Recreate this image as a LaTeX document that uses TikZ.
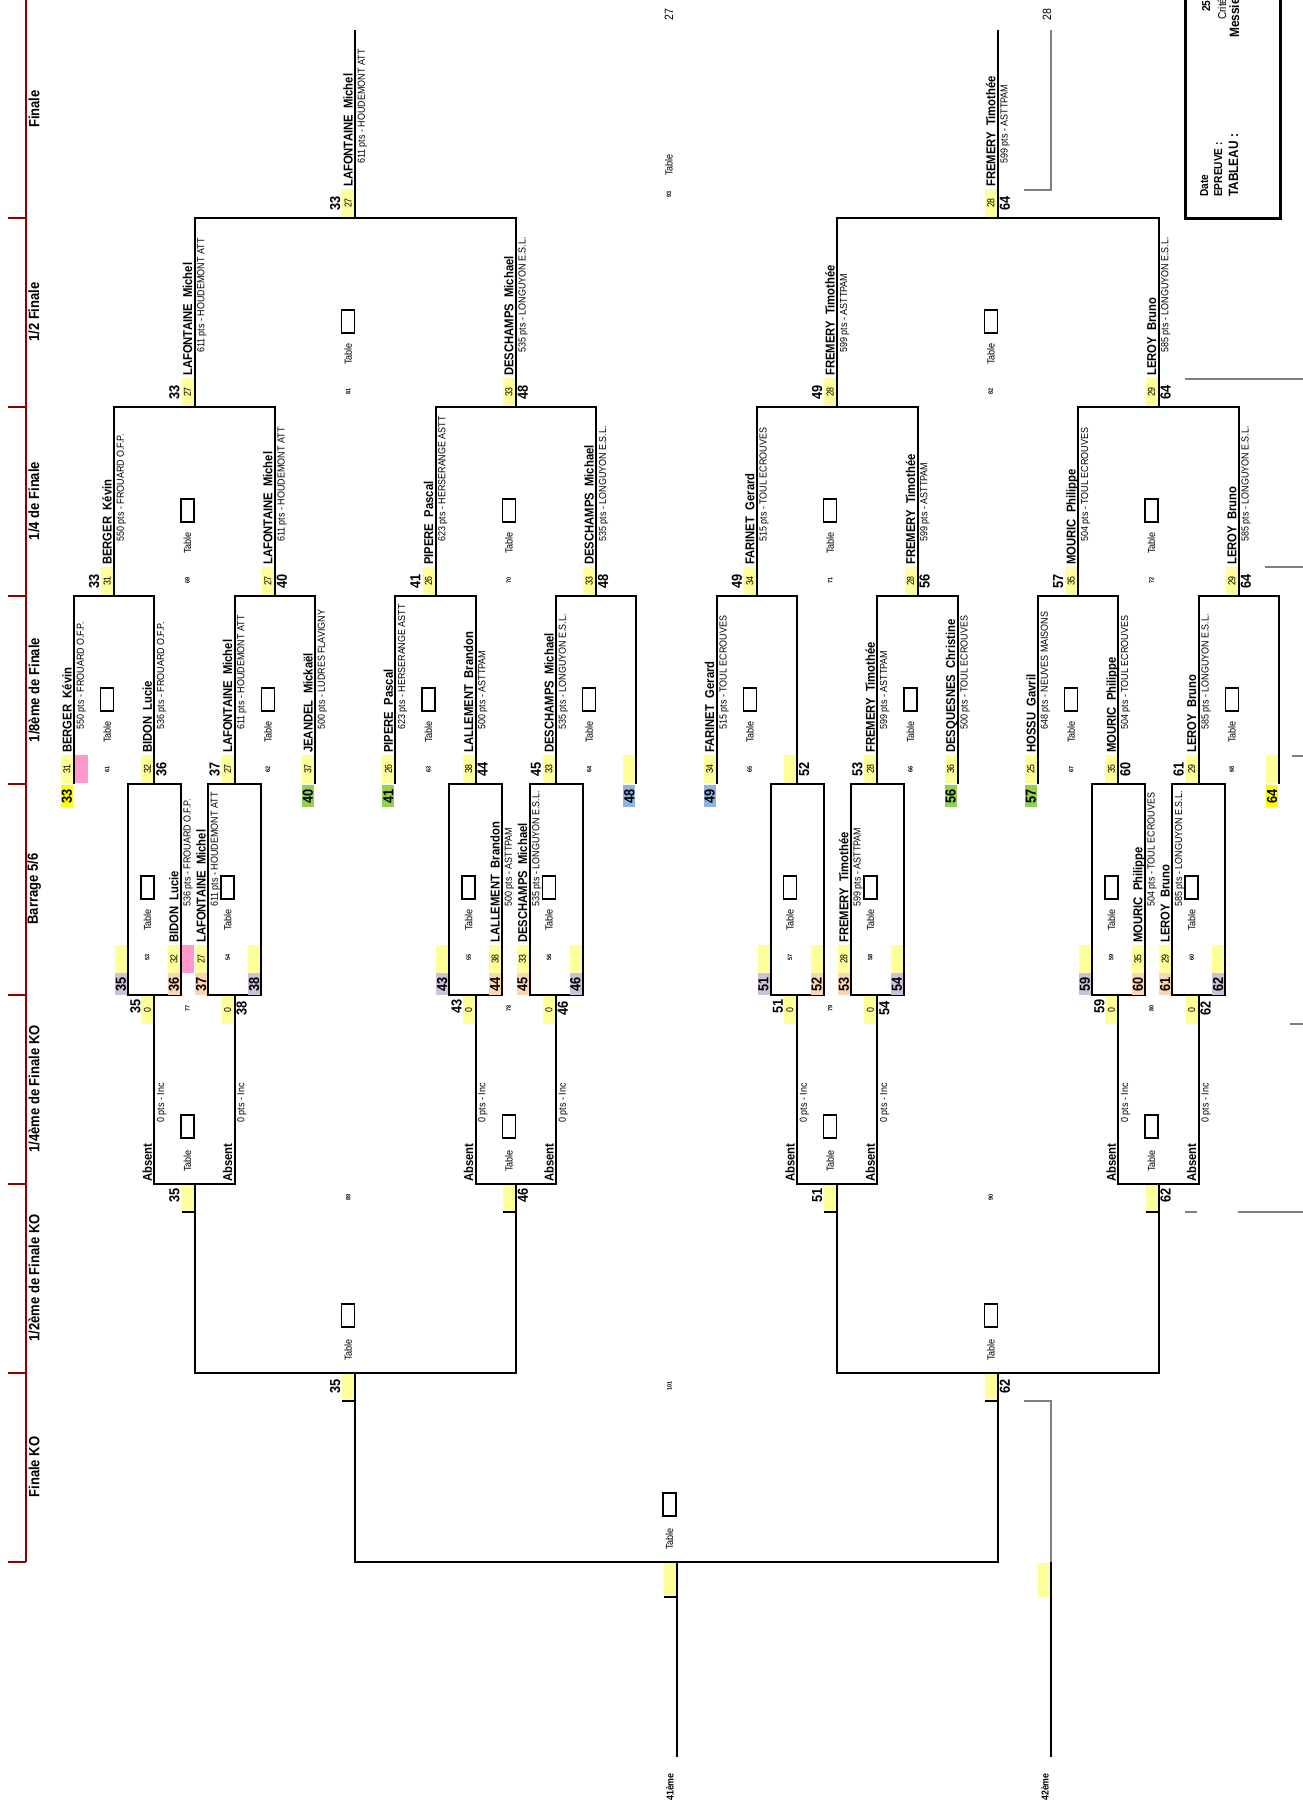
\documentclass[tikz,border=0pt]{standalone}
\usepackage{fontspec}
\setmainfont{Liberation Sans}[FakeStretch=0.88]
\usepackage{tikz}
\usetikzlibrary{calc}
\usepackage{xcolor}
\definecolor{jaunepale}{RGB}{255,255,153}
\definecolor{jaunevif}{RGB}{255,255,0}
\definecolor{vertrang}{RGB}{146,208,80}
\definecolor{bleurang}{RGB}{141,180,226}
\definecolor{lilas}{RGB}{204,192,218}
\definecolor{peche}{RGB}{252,213,180}
\definecolor{rose}{RGB}{255,153,204}
\definecolor{rougeaxe}{RGB}{140,0,0}
\newcommand{\clubgap}{53}
% seed box at the foot of a player line
\newcommand{\seedbox}[4]{%
  \fill[jaunepale] ({#2-13},{#3-28}) rectangle ({#2-1},#3);
  \node[seedtxt] (#1) at ({#2-7},{#3-14}) {#4};}
% player: id, x, y foot, seed, name, club
\newcommand{\joueur}[6]{%
  \seedbox{#1s}{#2}{#3}{#4}
  \node[nom, anchor=base west] (#1n) at ({#2-2.5},{#3-30}) {#5};
  \node[club, anchor=north west] (#1c) at ({#2+2.5},{#3-\clubgap}) {#6};}
\newcommand{\rang}[4]{\node[rangtxt] (#1) at (#2,#3) {#4};}
\newcommand{\rangbox}[6]{%
  \fill[#2] ({#3-13},#4) rectangle ({#3-1},#5);
  \node[rangtxt] (#1) at ({#3-7},{(#4+#5)/2}) {#6};}
% table marks: upper rows and KO rows
\newcommand{\tablehaut}[4]{%
  \draw[tabbox] ({#2-13.5},{#3+92}) rectangle ({#2-0.5},{#3+115});
  \node[tabtxt] (#1t) at ({#2-7},{#3+136}) {Table};
  \node[tabnum] (#1) at ({#2-7},{#3+173}) {#4};}
\newcommand{\tablebas}[5]{%
  \node[tabnum] (#1) at ({#2-7},{#3+13}) {#5};
  \draw[tabbox] ({#2-13.5},{#4-69}) rectangle ({#2-0.5},{#4-46});
  \node[tabtxt] (#1t) at ({#2-7},{#4-23}) {Table};}
\newcommand{\absent}[2]{%
  \seedbox{#1s}{#2}{1024}{0}
  \node[nom, anchor=base west] (#1n) at ({#2-2.5},1182) {Absent};
  \node[club, anchor=north west] (#1c) at ({#2+2.5},1123) {0 pts - Inc};}
\newcommand{\talon}[3]{%
  \fill[jaunepale] ({#1-13},#2) rectangle ({#1-1},#3);
  \draw[line width=1.5pt] ({#1-13},#3) -- (#1,#3);}

\begin{document}
\begin{tikzpicture}[x=1pt, y=-1pt,
    trait/.style={line width=2pt},
    axe/.style={line width=2pt, rougeaxe},
    grisl/.style={line width=1.5pt, gray},
    tabbox/.style={line width=1.6pt},
    nom/.style={rotate=90, inner sep=0pt, font=\fontsize{12.8}{13}\selectfont\bfseries},
    club/.style={rotate=90, inner sep=0pt, font=\fontsize{10.2}{11}\selectfont},
    seedtxt/.style={rotate=90, inner sep=0pt, font=\fontsize{10}{11}\selectfont},
    rangtxt/.style={rotate=90, inner sep=0pt, font=\fontsize{14.5}{15}\selectfont\bfseries},
    tabtxt/.style={rotate=90, inner sep=0pt, font=\fontsize{10.3}{11}\selectfont},
    tabnum/.style={rotate=90, inner sep=0pt, font=\fontsize{6.2}{7}\selectfont\bfseries},
    tour/.style={rotate=90, inner sep=0pt, font=\fontsize{14.8}{15}\selectfont\bfseries},
    petit/.style={rotate=90, inner sep=0pt, font=\fontsize{12}{13}\selectfont},
    entete/.style={rotate=90, anchor=base west, inner sep=0pt, font=\fontsize{11.5}{12}\selectfont\bfseries}]
    \path[fill=white, use as bounding box] (0,0) rectangle (1303,1809);

    % --- Round axis ---
    \draw[axe] (26,0) -- (26,1562);
    \foreach \y in {218,407,596,784,995,1184,1373,1562} {
        \draw[axe] (8,\y) -- (26,\y);
    }
    \node[tour] (lab1) at (34,109) {Finale};
    \node[tour] (lab2) at (34,312) {1/2 Finale};
    \node[tour] (lab3) at (34,501) {1/4 de Finale};
    \node[tour] (lab4) at (34,690) {1/8ème de Finale};
    \node[tour] (lab5) at (34,889) {Barrage 5/6};
    \node[tour] (lab6) at (34,1089) {1/4ème de Finale KO};
    \node[tour] (lab7) at (34,1278) {1/2ème de Finale KO};
    \node[tour] (lab8) at (34,1467) {Finale KO};

    % --- Main bracket ---
    \foreach \m in {0,...,7} {
        \pgfmathsetmacro{\xa}{74+160.667*\m}
        \pgfmathsetmacro{\xb}{\xa+80.333}
        \draw[trait] (\xa,784) -- (\xa,596) -- (\xb,596) -- (\xb,784);
    }
    \foreach \q in {0,...,3} {
        \pgfmathsetmacro{\xa}{114.167+321.333*\q}
        \pgfmathsetmacro{\xb}{\xa+160.667}
        \draw[trait] (\xa,596) -- (\xa,407) -- (\xb,407) -- (\xb,596);
    }
    \foreach \s in {0,1} {
        \pgfmathsetmacro{\xa}{194.5+642.667*\s}
        \pgfmathsetmacro{\xb}{\xa+321.333}
        \draw[trait] (\xa,407) -- (\xa,218) -- (\xb,218) -- (\xb,407);
    }
    \foreach \x in {355.17,997.83} {
        \draw[trait] (\x,30) -- (\x,218);
    }

    % --- Barrage and KO bracket ---
    \foreach \g in {0,...,3} {
        \pgfmathsetmacro{\ca}{154.333+321.333*\g}
        \pgfmathsetmacro{\cb}{\ca+80.333}
        \draw[trait] ({\ca-26.5},784) rectangle ({\ca+26.5},995);
        \draw[trait] ({\cb-26.5},784) rectangle ({\cb+26.5},995);
        \draw[trait] (\ca,995) -- (\ca,1184) -- (\cb,1184) -- (\cb,995);
    }
    \foreach \s in {0,1} {
        \pgfmathsetmacro{\xa}{194.5+642.667*\s}
        \pgfmathsetmacro{\xb}{\xa+321.333}
        \draw[trait] (\xa,1184) -- (\xa,1373) -- (\xb,1373) -- (\xb,1184);
    }
    \draw[trait] (355.17,1373) -- (355.17,1562) -- (997.83,1562) -- (997.83,1373);
    \draw[trait] (676.5,1562) -- (676.5,1757);

    % --- Finale ---
    \joueur{f1}{355.17}{217}{27}{LAFONTAINE~~Michel}{611 pts - HOUDEMONT ATT}
    \rang{f1r}{335.17}{203}{33}
    \joueur{f2}{997.83}{217}{28}{FREMERY~~Timothée}{599 pts - ASTTPAM}
    \rang{f2r}{1004.83}{203}{64}
    \node[petit] (p27) at (669,15) {27};
    \node[petit] (p28) at (1047,15) {28};
    \node[tabtxt] (t93t) at (669,165) {Table};
    \node[tabnum] (t93) at (669,194) {93};
    \draw[grisl] (1024,190) -- (1051,190) -- (1051,30);

    % --- 1/2 Finale ---
    \joueur{d1}{194.5}{406}{27}{LAFONTAINE~~Michel}{611 pts - HOUDEMONT ATT}
    \rang{d1r}{174.5}{392}{33}
    \joueur{d2}{515.83}{406}{33}{DESCHAMPS~~Michael}{535 pts - LONGUYON E.S.L.}
    \rang{d2r}{522.83}{392}{48}
    \joueur{d3}{837.17}{406}{28}{FREMERY~~Timothée}{599 pts - ASTTPAM}
    \rang{d3r}{817.17}{392}{49}
    \joueur{d4}{1158.5}{406}{29}{LEROY~~Bruno}{585 pts - LONGUYON E.S.L.}
    \rang{d4r}{1165.5}{392}{64}
    \tablehaut{t81}{355.17}{218}{81}
    \tablehaut{t82}{997.83}{218}{82}

    % --- 1/4 de Finale ---
    \joueur{q1}{114.17}{595}{31}{BERGER~~Kévin}{550 pts - FROUARD O.F.P.}
    \rang{q1r}{94.17}{581}{33}
    \joueur{q2}{274.83}{595}{27}{LAFONTAINE~~Michel}{611 pts - HOUDEMONT ATT}
    \rang{q2r}{281.83}{581}{40}
    \joueur{q3}{435.5}{595}{26}{PIPERE~~Pascal}{623 pts - HERSERANGE ASTT}
    \rang{q3r}{415.5}{581}{41}
    \joueur{q4}{596.17}{595}{33}{DESCHAMPS~~Michael}{535 pts - LONGUYON E.S.L.}
    \rang{q4r}{603.17}{581}{48}
    \joueur{q5}{756.83}{595}{34}{FARINET~~Gerard}{515 pts - TOUL ECROUVES}
    \rang{q5r}{736.83}{581}{49}
    \joueur{q6}{917.5}{595}{28}{FREMERY~~Timothée}{599 pts - ASTTPAM}
    \rang{q6r}{924.5}{581}{56}
    \joueur{q7}{1078.17}{595}{35}{MOURIC~~Philippe}{504 pts - TOUL ECROUVES}
    \rang{q7r}{1058.17}{581}{57}
    \joueur{q8}{1238.83}{595}{29}{LEROY~~Bruno}{585 pts - LONGUYON E.S.L.}
    \rang{q8r}{1245.83}{581}{64}
    \tablehaut{t69}{194.5}{407}{69}
    \tablehaut{t70}{515.83}{407}{70}
    \tablehaut{t71}{837.17}{407}{71}
    \tablehaut{t72}{1158.5}{407}{72}

    % --- 1/8eme de Finale ---
    \joueur{h1}{74}{783}{31}{BERGER~~Kévin}{550 pts - FROUARD O.F.P.}
    \fill[rose] (75,755) rectangle (88,783);
    \rangbox{h1r}{jaunevif}{74}{785}{807}{33}
    \joueur{h2}{154.33}{783}{32}{BIDON~~Lucie}{536 pts - FROUARD O.F.P.}
    \rang{h2r}{161.33}{769}{36}
    \joueur{h3}{234.67}{783}{27}{LAFONTAINE~~Michel}{611 pts - HOUDEMONT ATT}
    \rang{h3r}{214.67}{769}{37}
    \joueur{h4}{315}{783}{37}{JEANDEL~~Mickaël}{500 pts - LUDRES FLAVIGNY}
    \rangbox{h4r}{vertrang}{315}{785}{807}{40}
    \joueur{h5}{395.33}{783}{26}{PIPERE~~Pascal}{623 pts - HERSERANGE ASTT}
    \rangbox{h5r}{vertrang}{395.33}{785}{807}{41}
    \joueur{h6}{475.67}{783}{38}{LALLEMENT~~Brandon}{500 pts - ASTTPAM}
    \rang{h6r}{482.67}{769}{44}
    \joueur{h7}{556}{783}{33}{DESCHAMPS~~Michael}{535 pts - LONGUYON E.S.L.}
    \rang{h7r}{536}{769}{45}
    \seedbox{h8s}{636.33}{783}{}
    \rangbox{h8r}{bleurang}{636.33}{785}{807}{48}
    \joueur{h9}{716.67}{783}{34}{FARINET~~Gerard}{515 pts - TOUL ECROUVES}
    \rangbox{h9r}{bleurang}{716.67}{785}{807}{49}
    \seedbox{h10s}{797}{783}{}
    \rang{h10r}{804}{769}{52}
    \joueur{h11}{877.33}{783}{28}{FREMERY~~Timothée}{599 pts - ASTTPAM}
    \rang{h11r}{857.33}{769}{53}
    \joueur{h12}{957.67}{783}{36}{DESQUESNES~~Christine}{500 pts - TOUL ECROUVES}
    \rangbox{h12r}{vertrang}{957.67}{785}{807}{56}
    \joueur{h13}{1038}{783}{25}{HOSSU~~Gavril}{648 pts - NEUVES MAISONS}
    \rangbox{h13r}{vertrang}{1038}{785}{807}{57}
    \joueur{h14}{1118.33}{783}{35}{MOURIC~~Philippe}{504 pts - TOUL ECROUVES}
    \rang{h14r}{1125.33}{769}{60}
    \joueur{h15}{1198.67}{783}{29}{LEROY~~Bruno}{585 pts - LONGUYON E.S.L.}
    \rang{h15r}{1178.67}{769}{61}
    \seedbox{h16s}{1279}{783}{}
    \rangbox{h16r}{jaunevif}{1279}{785}{807}{64}
    \foreach \m in {0,...,7} {
        \pgfmathsetmacro{\xm}{114.167+160.667*\m}
        \pgfmathtruncatemacro{\nm}{61+\m}
        \tablehaut{t\nm}{\xm}{596}{\nm}
    }

    % --- Barrage 5/6 ---
    \begin{scope}
        \def\clubgap{66}
        \seedbox{b1s}{127.83}{973}{}
        \rangbox{b1r}{lilas}{127.83}{973}{995}{35}
        \joueur{b2}{180.83}{973}{32}{BIDON~~Lucie}{536 pts - FROUARD O.F.P.}
        \rangbox{b2r}{peche}{180.83}{973}{995}{36}
        \fill[rose] (182,945) rectangle (194,973);
        \joueur{b3}{208.17}{973}{27}{LAFONTAINE~~Michel}{611 pts - HOUDEMONT ATT}
        \rangbox{b3r}{peche}{208.17}{973}{995}{37}
        \seedbox{b4s}{261.17}{973}{}
        \rangbox{b4r}{lilas}{261.17}{973}{995}{38}

        \seedbox{b5s}{449.17}{973}{}
        \rangbox{b5r}{lilas}{449.17}{973}{995}{43}
        \joueur{b6}{502.17}{973}{38}{LALLEMENT~~Brandon}{500 pts - ASTTPAM}
        \rangbox{b6r}{peche}{502.17}{973}{995}{44}
        \joueur{b7}{529.5}{973}{33}{DESCHAMPS~~Michael}{535 pts - LONGUYON E.S.L.}
        \rangbox{b7r}{peche}{529.5}{973}{995}{45}
        \seedbox{b8s}{582.5}{973}{}
        \rangbox{b8r}{lilas}{582.5}{973}{995}{46}

        \seedbox{b9s}{770.5}{973}{}
        \rangbox{b9r}{lilas}{770.5}{973}{995}{51}
        \seedbox{b10s}{823.5}{973}{}
        \rangbox{b10r}{peche}{823.5}{973}{995}{52}
        \joueur{b11}{850.83}{973}{28}{FREMERY~~Timothée}{599 pts - ASTTPAM}
        \rangbox{b11r}{peche}{850.83}{973}{995}{53}
        \seedbox{b12s}{903.83}{973}{}
        \rangbox{b12r}{lilas}{903.83}{973}{995}{54}

        \seedbox{b13s}{1091.83}{973}{}
        \rangbox{b13r}{lilas}{1091.83}{973}{995}{59}
        \joueur{b14}{1144.83}{973}{35}{MOURIC~~Philippe}{504 pts - TOUL ECROUVES}
        \rangbox{b14r}{peche}{1144.83}{973}{995}{60}
        \joueur{b15}{1172.17}{973}{29}{LEROY~~Bruno}{585 pts - LONGUYON E.S.L.}
        \rangbox{b15r}{peche}{1172.17}{973}{995}{61}
        \seedbox{b16s}{1225.17}{973}{}
        \rangbox{b16r}{lilas}{1225.17}{973}{995}{62}
    \end{scope}
    \foreach \x/\n in {154.33/53,234.67/54,475.67/55,556/56,797/57,877.33/58,1118.33/59,1198.67/60} {
        \tablehaut{t\n}{\x}{784}{\n}
    }

    % --- 1/4eme de Finale KO ---
    \foreach \x/\n in {154.33/1,234.67/2,475.67/3,556/4,797/5,877.33/6,1118.33/7,1198.67/8} {
        \absent{k\n}{\x}
    }
    \rang{k1r}{135.33}{1006}{35}
    \rang{k2r}{241.67}{1008}{38}
    \rang{k3r}{456.67}{1006}{43}
    \rang{k4r}{563}{1008}{46}
    \rang{k5r}{778}{1006}{51}
    \rang{k6r}{884.33}{1008}{54}
    \rang{k7r}{1099.33}{1006}{59}
    \rang{k8r}{1205.67}{1008}{62}
    \foreach \x/\n in {194.5/77,515.83/78,837.17/79,1158.5/80} {
        \tablebas{t\n}{\x}{995}{1184}{\n}
    }

    % --- 1/2eme de Finale KO ---
    \foreach \x in {194.5,515.83,837.17,1158.5} {
        \talon{\x}{1185}{1212}
    }
    \rang{m1r}{174.5}{1195}{35}
    \rang{m2r}{522.83}{1195}{46}
    \rang{m3r}{817.17}{1195}{51}
    \rang{m4r}{1165.5}{1195}{62}
    \tablebas{t89}{355.17}{1184}{1373}{89}
    \tablebas{t90}{997.83}{1184}{1373}{90}

    % --- Finale KO ---
    \talon{355.17}{1374}{1401}
    \talon{997.83}{1374}{1401}
    \rang{z1r}{335.17}{1386}{35}
    \rang{z2r}{1004.83}{1386}{62}
    \tablebas{t101}{676.5}{1373}{1562}{101}
    \talon{676.5}{1563}{1597}
    \node[rotate=90, inner sep=0pt, font=\fontsize{10}{11}\selectfont\bfseries] (p41) at (670,1787) {41ème};
    \draw[grisl] (1024,1401) -- (1051,1401) -- (1051,1562);
    \draw[trait] (1051,1562) -- (1051,1757);
    \fill[jaunepale] (1038,1563) rectangle (1050,1597);
    \node[rotate=90, inner sep=0pt, font=\fontsize{10}{11}\selectfont\bfseries] (p42) at (1045,1787) {42ème};

    % --- Right edge: header box and next sheet ---
    \draw[line width=3pt] (1185,-10) rectangle (1280,218);
    \node[entete] (hdate) at (1208,197) {Date};
    \node[entete] (hepr) at (1222,197) {EPREUVE :};
    \node[entete, font=\fontsize{13.5}{14}\selectfont\bfseries] (htab) at (1238,197) {TABLEAU :};
    \node[entete] (vdate) at (1210,12) {25};
    \node[entete, font=\fontsize{11.5}{12}\selectfont] (vepr) at (1226,20) {Crité};
    \node[entete, font=\fontsize{13.5}{14}\selectfont\bfseries] (vtab) at (1239,38) {Messie};
    \draw[grisl] (1185,379) -- (1310,379);
    \draw[grisl] (1265,567) -- (1310,567);
    \draw[grisl] (1292,756) -- (1310,756);
    \draw[grisl] (1290,1024) -- (1310,1024);
    \draw[grisl] (1238,1212) -- (1310,1212);
    \draw[grisl] (1185,1212) -- (1197,1212);
\end{tikzpicture}
\end{document}
